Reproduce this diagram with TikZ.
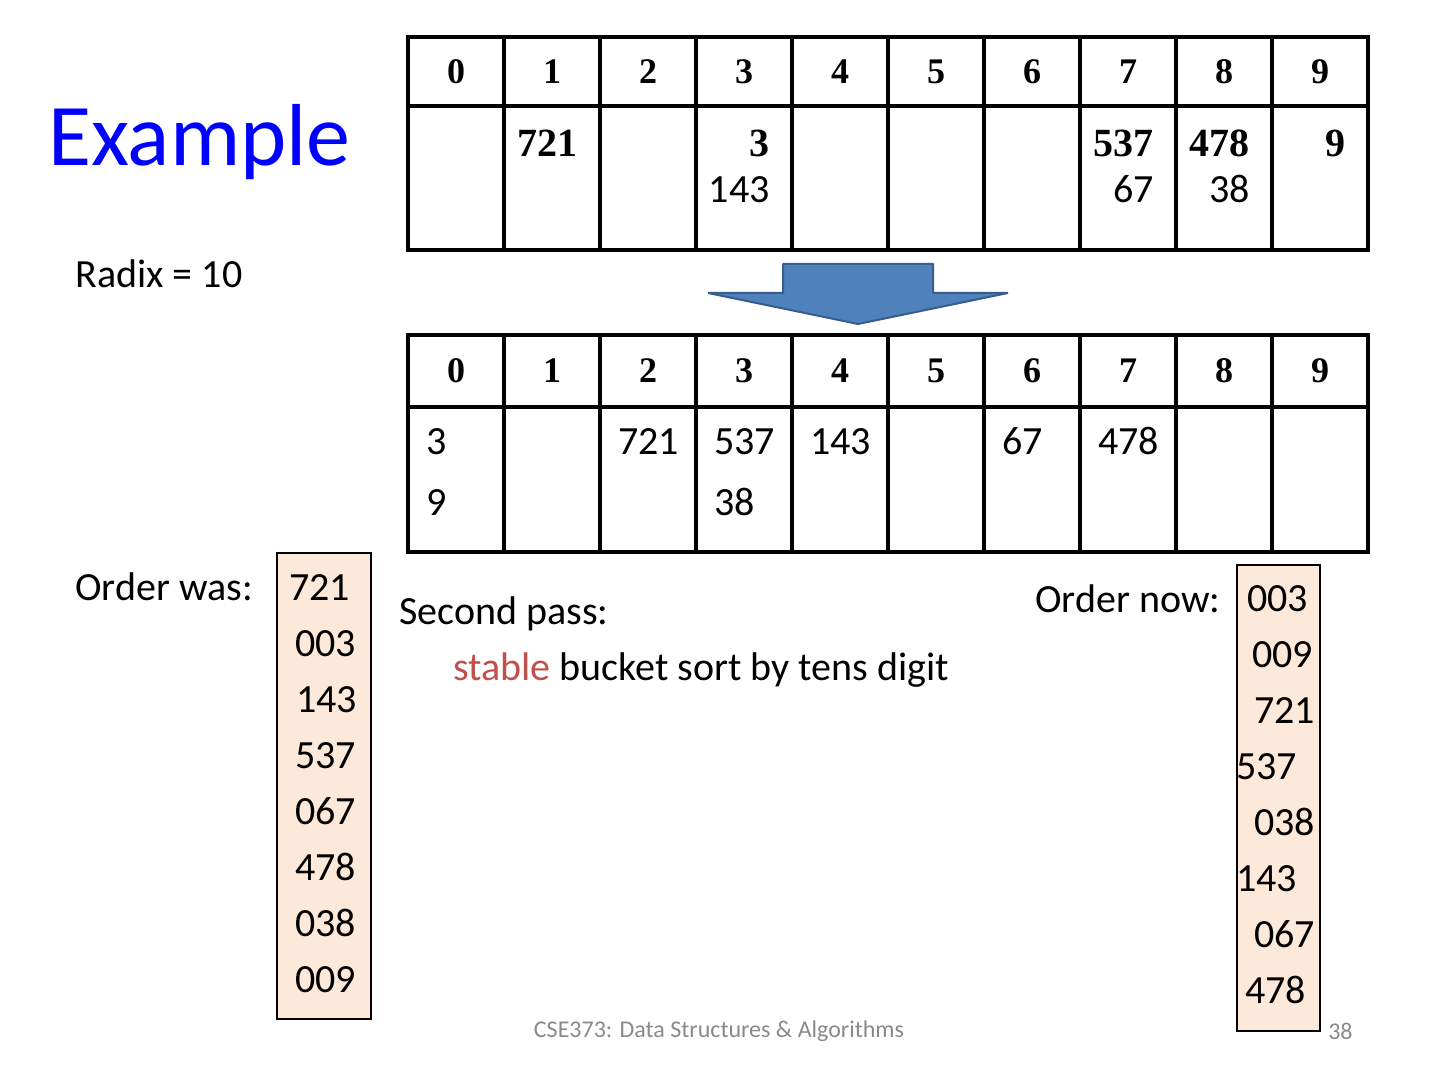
\documentclass[tikz,border=0pt]{standalone}
\usepackage{fontspec}
\setmainfont{Carlito}
\newfontfamily\tableserif{Liberation Serif}
\usepackage{xcolor}
\usepackage{tikz}
\usetikzlibrary{positioning}
\definecolor{titleblue}{RGB}{0,0,255}
\definecolor{listbg}{RGB}{253,233,217}
\definecolor{arrowfill}{RGB}{79,129,189}
\definecolor{arrowline}{RGB}{56,93,138}
\definecolor{stablered}{RGB}{192,80,77}
\definecolor{footgray}{RGB}{137,137,137}
\newcommand{\bodyfont}{\fontsize{20}{24}\selectfont}
\newcommand{\headfont}{\tableserif\bfseries\fontsize{18}{20}\selectfont}
\tikzset{
  headcell/.style={draw, line width=2.25pt, minimum width=48pt,
    inner sep=0pt, font=\headfont},
  bincell/.style={draw, line width=2.25pt, minimum width=48pt, inner sep=0pt},
  firstkey/.style={inner sep=0pt, anchor=base east,
    font=\tableserif\bfseries\fontsize{20}{24}\selectfont},
  secondkey/.style={inner sep=0pt, anchor=base east, font=\bodyfont},
  passkey/.style={inner sep=0pt, anchor=base west, font=\bodyfont},
  listbox/.style={draw, line width=1pt, fill=listbg, minimum width=47pt,
    minimum height=233pt, inner sep=0pt},
  listkey/.style={inner sep=0pt, anchor=base west, font=\bodyfont},
  bodytext/.style={inner sep=0pt, anchor=base west, font=\bodyfont},
  blockarrow/.style={draw=arrowline, fill=arrowfill, line width=1pt,
    line join=bevel},
  footer/.style={inner sep=0pt, font=\fontsize{12}{14}\selectfont,
    text=footgray}
}

\begin{document}
\begin{tikzpicture}[x=0.5pt,y=-0.5pt]
  \useasboundingbox (0,0) rectangle (1440,1080);

  \node[inner sep=0pt, anchor=base west, text=titleblue,
    font=\fontsize{44}{50}\selectfont] (title) at (48,166) {Example};
  \node[bodytext] (radix) at (75,288) {Radix = 10};

  \foreach \i in {0,...,9} {
    \node[headcell, minimum height=34.5pt] (tophead\i) at ({456+96*\i},71.5) {\i};
    \node[bincell, minimum height=72pt] (topbin\i) at ({456+96*\i},178) {};
    \node[headcell, minimum height=36pt] (bothead\i) at ({456+96*\i},371) {\i};
    \node[bincell, minimum height=72.5pt] (botbin\i) at ({456+96*\i},479.5) {};
  }

  \foreach \c/\v in {1/721,3/3,7/537,8/478,9/9}
    \node[firstkey] (topfirst\c) at ({482+96*\c},156.5) {\v};
  \foreach \c/\v in {3/143,7/67,8/38}
    \node[secondkey] (topsecond\c) at ({482+96*\c},203) {\v};

  \draw[blockarrow] (783,264) -- (933,264) -- (933,293) -- (1008,293)
    -- (858,324) -- (708,293) -- (783,293) -- cycle;

  \foreach \c/\v in {0/3,2/721,3/537,4/143,6/67,7/478}
    \node[passkey] (botfirst\c) at ({426+96*\c},454) {\v};
  \foreach \c/\v in {0/9,3/38}
    \node[passkey] (botsecond\c) at ({426+96*\c},515) {\v};

  \node[bodytext] (waslabel) at (75,600) {Order was:};
  \node[listbox] (wasbox) at (324,786) {};
  \foreach \k/\v/\x in {1/721/289,2/003/295,3/143/296,4/537/295,
                        5/067/295,6/478/295,7/038/295,8/009/295}
    \node[listkey] (was\k) at (\x,{544+56*\k}) {\v};

  \node[bodytext] (second) at (399,624) {Second pass:};
  \node[bodytext] (rule) at (453,680)
    {\textcolor{stablered}{stable} bucket sort by tens digit};

  \node[bodytext] (nowlabel) at (1035,612) {Order now:};
  \node[listbox, minimum width=41.5pt] (nowbox) at (1278.5,798) {};
  \foreach \k/\v/\x in {1/003/1247,2/009/1252,3/721/1254,4/537/1236,
                        5/038/1254,6/143/1236,7/067/1254,8/478/1245}
    \node[listkey] (now\k) at (\x,{556+55.9*\k}) {\v};

  \node[footer] (course) at (719,1031) {CSE373: Data Structures \& Algorithms};
  \node[footer, anchor=east] (page) at (1353,1031) {38};
\end{tikzpicture}
\end{document}
